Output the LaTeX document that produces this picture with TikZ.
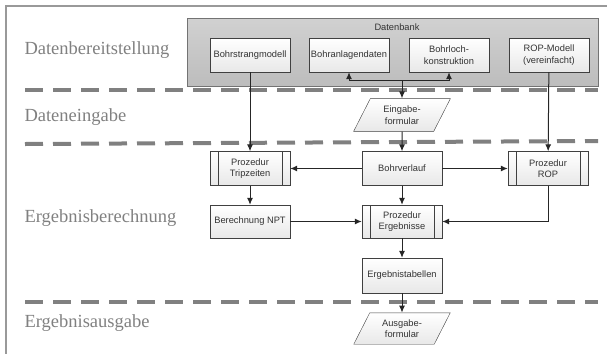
\documentclass[tikz,border=0pt]{standalone}
\usepackage{fontspec}
\setmainfont{Liberation Serif}
\setsansfont{Liberation Sans}
\usetikzlibrary{shapes.geometric,arrows.meta}

\begin{document}
\begin{tikzpicture}[x=1pt,y=-1pt,
  box/.style={rectangle,draw=black!75,top color=white,bottom color=black!9,minimum width=80pt,minimum height=34pt,inner sep=1pt,align=center,text=black!80,font=\sffamily\fontsize{9.3}{11.5}\selectfont},
  proc/.style={box,path picture={
    \draw[black!75] ([xshift=8pt]path picture bounding box.north west) -- ([xshift=8pt]path picture bounding box.south west);
    \draw[black!75] ([xshift=-8pt]path picture bounding box.north east) -- ([xshift=-8pt]path picture bounding box.south east);}},
  io/.style={trapezium,trapezium left angle=63,trapezium right angle=117,draw=black!75,top color=white,bottom color=black!9,minimum width=97pt,minimum height=30pt,inner sep=1pt,align=center,text=black!80,font=\sffamily\fontsize{9.3}{11.5}\selectfont},
  lane/.style={anchor=west,text=black!50,font=\fontsize{18.5}{20}\selectfont},
  sep/.style={draw=black!50,line width=4pt,dash pattern=on 18pt off 10pt},
  flow/.style={-{Latex[length=7pt,width=6pt]},line width=1pt,black!85}]
\useasboundingbox (0,0) rectangle (607,354);
\draw[black!40,line width=1.5pt] (607,6) -- (6,6) -- (6,354);

% Datenbank
\node[rectangle,draw=black!55,top color=black!18,bottom color=black!26,minimum width=411pt,minimum height=68pt] at (392.5,52) (db) {};
\node[text=black!80,font=\sffamily\fontsize{9.3}{11}\selectfont] at (397,27) (dbtitle) {Datenbank};
\node[box] at (250,55) (strang) {Bohrstrangmodell};
\node[box] at (349,55) (anl) {Bohranlagendaten};
\node[box] at (449,55) (loch) {Bohrloch-\\konstruktion};
\node[box] at (549,55) (ropm) {ROP-Modell\\(vereinfacht)};

% Bereiche
\node[lane] at (21,50) (l1) {Datenbereitstellung};
\node[lane] at (21,117) (l2) {Dateneingabe};
\node[lane] at (21,218) (l3) {Ergebnisberechnung};
\node[lane] at (21,323) (l4) {Ergebnisausgabe};
\draw[sep] (25,90) -- (598,90);
\draw[sep] (25,144) -- (598,141);
\draw[sep] (25,302) -- (598,302);

% Ablauf
\node[io] at (402,115) (eing) {Eingabe-\\formular};
\node[proc] at (250,168.5) (trip) {Prozedur\\Tripzeiten};
\node[box] at (402,168.5) (verlauf) {Bohrverlauf};
\node[proc] at (548,168.5) (rop) {Prozedur\\ROP};
\node[box,minimum height=33pt] at (250,221.5) (npt) {Berechnung NPT};
\node[proc,minimum height=33pt] at (402,221.5) (erg) {Prozedur\\Ergebnisse};
\node[box,minimum height=35pt] at (402,275.5) (tab) {Ergebnistabellen};
\node[io] at (402,328.5) (ausg) {Ausgabe-\\formular};

\coordinate (split) at (402,80);
\draw[flow] (split) -- (eing);
\draw[flow] (split) -| (anl.south);
\draw[flow] (split) -| (loch.south);
\draw[flow] (strang) -- (trip);
\draw[flow] (ropm) -- (rop);
\draw[flow] (eing) -- (verlauf);
\draw[flow] (verlauf) -- (trip);
\draw[flow] (verlauf) -- (rop);
\draw[flow] (trip) -- (npt);
\draw[flow] (verlauf) -- (erg);
\draw[flow] (npt) -- (erg);
\draw[flow] (rop.south) |- (erg.east);
\draw[flow] (erg) -- (tab);
\draw[flow] (tab) -- (ausg);
\end{tikzpicture}
\end{document}
